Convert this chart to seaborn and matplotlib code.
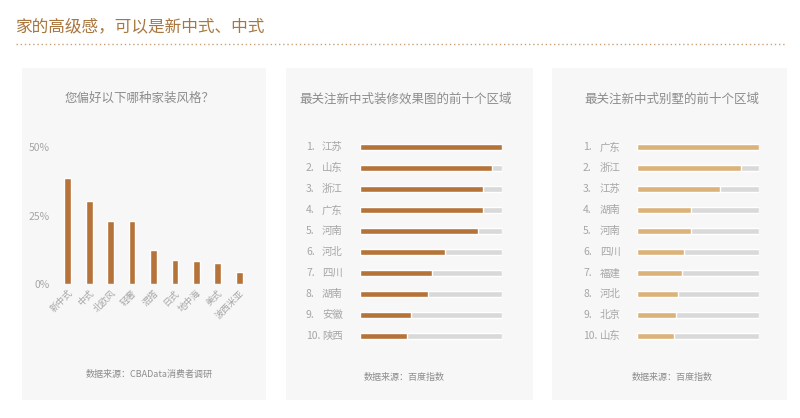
import matplotlib
matplotlib.use("Agg")
import matplotlib.pyplot as plt
import seaborn as sns
import pandas as pd
from matplotlib.patches import Rectangle
from matplotlib.lines import Line2D
import matplotlib.transforms as mtransforms

sns.set_theme(style="white")
plt.rcParams['font.family'] = ['Noto Sans CJK SC', 'DejaVu Sans']

# ---------------- data ----------------
main_title = "家的高级感，可以是新中式、中式"

styles = ["新中式", "中式", "北欧风", "轻奢", "混搭", "日式", "地中海", "美式", "波西米亚"]
style_pct = [38.7, 30.4, 23.1, 23.1, 12.5, 8.8, 8.6, 7.8, 4.6]
p1_title = "您偏好以下哪种家装风格？"
p1_source = "数据来源：CBAData消费者调研"
p1_yticks = [0, 25, 50]
p1_yticklabels = ["0%", "25%", "50%"]

regions2 = ["江苏", "山东", "浙江", "广东", "河南", "河北", "四川", "湖南", "安徽", "陕西"]
values2 = [1.00, 0.93, 0.866, 0.866, 0.83, 0.60, 0.51, 0.48, 0.36, 0.33]
p2_title = "最关注新中式装修效果图的前十个区域"
p2_source = "数据来源：百度指数"

regions3 = ["广东", "浙江", "江苏", "湖南", "河南", "四川", "福建", "河北", "北京", "山东"]
values3 = [1.00, 0.85, 0.68, 0.44, 0.44, 0.385, 0.366, 0.333, 0.317, 0.30]
p3_title = "最关注新中式别墅的前十个区域"
p3_source = "数据来源：百度指数"

# ---------------- style ----------------
W, H = 800, 418
DARK = "#b5733a"
TAN = "#dbb27a"
TRACK = "#d9d9d9"
PANEL = "#f7f7f7"
GRAY = "#8c8c8c"
LGRAY = "#a6a6a6"
TITLE_C = "#a8763e"

fig = plt.figure(figsize=(W / 100, H / 100), dpi=100)
fig.patch.set_facecolor("white")


def fx(px):
    return px / W


def fy(py):
    return 1 - py / H


def ax_rect(x0, y0, x1, y1):
    return [fx(x0), fy(y1), fx(x1) - fx(x0), (y1 - y0) / H]


# panel backgrounds
for (x0, x1) in [(22, 266), (286, 533), (552, 787)]:
    fig.patches.append(Rectangle((fx(x0), fy(400)), fx(x1) - fx(x0), (400 - 68) / H,
                                 transform=fig.transFigure, facecolor=PANEL,
                                 edgecolor="none", zorder=-10))

# main title and dotted rule
fig.text(fx(16), fy(27), main_title, color=TITLE_C, fontsize=12, va="center", ha="left")
fig.add_artist(Line2D([fx(16), fx(786)], [fy(44), fy(44)], transform=fig.transFigure,
                      color="#c9a27a", linestyle=(0, (1, 2)), linewidth=1.0))

# ---------------- panel 1: vertical bars ----------------
ax1 = fig.add_axes(ax_rect(57, 146.7, 250, 284.3))
ax1.set_facecolor("none")
df1 = pd.DataFrame({"style": styles, "pct": style_pct})
sns.barplot(data=df1, x="style", y="pct", color=DARK, width=0.32, saturation=1, ax=ax1)
ax1.set_xlim(-0.5, len(styles) - 0.5)
ax1.set_ylim(0, 50)
ax1.set_yticks(p1_yticks)
ax1.set_yticklabels(p1_yticklabels, color=LGRAY, fontsize=7.5)
ax1.set_xticks(range(len(styles)))
ax1.set_xticklabels(styles, rotation=45, ha="right", rotation_mode="anchor",
                    color=LGRAY, fontsize=6.5)
ax1.tick_params(axis="both", length=0, pad=3)
ax1.tick_params(axis="y", pad=5)
ax1.set_xlabel("")
ax1.set_ylabel("")
for s in ax1.spines.values():
    s.set_visible(False)

fig.text(fx(140), fy(98), p1_title, color=GRAY, fontsize=9, ha="center", va="center")
fig.text(fx(149), fy(374), p1_source, color=GRAY, fontsize=6.5, ha="center", va="center")


# ---------------- panels 2 & 3: ranked horizontal bars ----------------
def ranked(x0, x1, names, vals, color, num_x, name_x, title, title_x, source, source_x):
    ax = fig.add_axes(ax_rect(x0, 136.8, x1, 346.8))
    ax.set_facecolor("none")
    df = pd.DataFrame({"name": names, "val": vals, "full": [1.0] * len(names)})
    sns.barplot(data=df, y="name", x="full", color=TRACK, width=0.28, saturation=1,
                orient="h", ax=ax)
    sns.barplot(data=df, y="name", x="val", color=color, width=0.28, saturation=1,
                orient="h", ax=ax)
    ax.set_xlim(0, 1)
    ax.set_ylim(len(names) - 0.5, -0.5)
    ax.set_xticks([])
    ax.set_yticks([])
    ax.set_xlabel("")
    ax.set_ylabel("")
    for s in ax.spines.values():
        s.set_visible(False)
    trans_num = mtransforms.blended_transform_factory(fig.transFigure, ax.transData)
    for i, n in enumerate(names):
        ax.text(fx(num_x), i, f"{i + 1}.", transform=trans_num, color=LGRAY,
                fontsize=7.5, ha="left", va="center")
        ax.text(fx(name_x), i, n, transform=trans_num, color=LGRAY,
                fontsize=7.5, ha="left", va="center")
    fig.text(fx(title_x), fy(99), title, color=GRAY, fontsize=9, ha="center", va="center")
    fig.text(fx(source_x), fy(377), source, color=GRAY, fontsize=6.5, ha="center", va="center")


ranked(360, 502, regions2, values2, DARK, 306, 322, p2_title, 406, p2_source, 404)
ranked(637, 759, regions3, values3, TAN, 583, 600, p3_title, 672, p3_source, 672)

fig.savefig("out.png", dpi=100, facecolor="white")
